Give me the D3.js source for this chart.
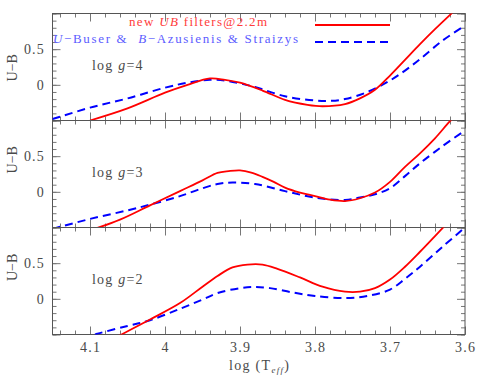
<!DOCTYPE html>
<html>
<head>
<meta charset="utf-8">
<script src="https://cdn.jsdelivr.net/npm/d3@7"></script>
<style>
  body { margin: 0; background: #fff; }
  svg text { font-family: "Liberation Serif", "DejaVu Serif", serif; fill: #4a4a4a; }
</style>
</head>
<body>
<div id="chart"></div>
<script>

// log Teff grid + U-B values, one pair per panel
var gravities = ["4", "3", "2"];

var teffRed4 = [4.10, 4.05, 4.00, 3.97, 3.94, 3.92, 3.90, 3.87, 3.84, 3.81, 3.79, 3.76, 3.74, 3.72, 3.70, 3.68, 3.66, 3.64, 3.62, 3.60];
var ubRed4   = [-0.50, -0.33, -0.11, 0.00, 0.09, 0.07, 0.03, -0.08, -0.21, -0.28, -0.30, -0.27, -0.19, -0.07, 0.13, 0.35, 0.57, 0.78, 0.98, 1.18];
var teffBlue4 = [4.15, 4.10, 4.05, 4.00, 3.97, 3.94, 3.92, 3.90, 3.88, 3.84, 3.80, 3.78, 3.76, 3.73, 3.70, 3.68, 3.66, 3.63, 3.60];
var ubBlue4   = [-0.48, -0.32, -0.19, -0.04, 0.03, 0.07, 0.06, 0.02, -0.03, -0.16, -0.22, -0.225, -0.20, -0.10, 0.06, 0.20, 0.36, 0.62, 0.83];

var teffRed3 = [4.10, 4.06, 4.02, 3.98, 3.95, 3.93, 3.915, 3.90, 3.885, 3.87, 3.855, 3.84, 3.82, 3.80, 3.78, 3.76, 3.74, 3.72, 3.70, 3.68, 3.66, 3.64, 3.62, 3.60];
var ubRed3   = [-0.54, -0.39, -0.19, 0.01, 0.16, 0.265, 0.29, 0.30, 0.27, 0.21, 0.14, 0.06, -0.01, -0.06, -0.11, -0.13, -0.09, -0.01, 0.14, 0.35, 0.54, 0.75, 0.99, 1.20];
var teffBlue3 = [4.15, 4.10, 4.05, 4.02, 3.98, 3.95, 3.93, 3.91, 3.88, 3.84, 3.80, 3.76, 3.74, 3.72, 3.70, 3.68, 3.66, 3.63, 3.60];
var ubBlue3   = [-0.52, -0.38, -0.26, -0.18, -0.06, 0.05, 0.11, 0.13, 0.11, 0.01, -0.08, -0.115, -0.08, -0.035, 0.05, 0.22, 0.40, 0.64, 0.86];

var teffRed2 = [4.08, 4.06, 4.02, 3.98, 3.95, 3.93, 3.91, 3.89, 3.87, 3.85, 3.82, 3.79, 3.76, 3.74, 3.72, 3.70, 3.68, 3.66, 3.64, 3.62];
var ubRed2   = [-0.62, -0.51, -0.29, -0.06, 0.17, 0.32, 0.44, 0.48, 0.48, 0.42, 0.30, 0.17, 0.10, 0.10, 0.15, 0.27, 0.45, 0.66, 0.88, 1.10];
var teffBlue2 = [4.11, 4.09, 4.05, 4.02, 3.98, 3.95, 3.93, 3.90, 3.88, 3.86, 3.83, 3.80, 3.76, 3.73, 3.70, 3.68, 3.66, 3.63, 3.60];
var ubBlue2   = [-0.56, -0.49, -0.38, -0.30, -0.14, -0.01, 0.08, 0.15, 0.165, 0.15, 0.09, 0.04, 0.01, 0.04, 0.13, 0.28, 0.45, 0.73, 1.00];

var xTickLabels = [4.1, 4.0, 3.9, 3.8, 3.7, 3.6];
var yTickLabels = [0, 0.5];

var panels = [
    {g: gravities[0], red: d3.zip(teffRed4, ubRed4), blue: d3.zip(teffBlue4, ubBlue4), lab: 0.24},
    {g: gravities[1], red: d3.zip(teffRed3, ubRed3), blue: d3.zip(teffBlue3, ubBlue3), lab: 0.45},
    {g: gravities[2], red: d3.zip(teffRed2, ubRed2), blue: d3.zip(teffBlue2, ubBlue2), lab: 0.44}
];

var width = 491, height = 387;
var margin = {top: 13.5, left: 52.5, right: 26},
    panelH = 107;

var svg = d3.select("#chart").append("svg")
    .attr("width", width)
    .attr("height", height);

var x = d3.scaleLinear()
    .domain([4.15, 3.6])
    .range([margin.left, width - margin.right]);

var y = d3.scaleLinear()
    .domain([-0.5, 1.0])
    .range([panelH, 0]);

var xMinor = d3.range(0, 28).map(function (i) { return +(4.14 - i * 0.02).toFixed(2); });
var yMinor = d3.range(-5, 11).map(function (i) { return i / 10; });

var line = d3.line()
    .x(function (d) { return x(d[0]); })
    .y(function (d) { return y(d[1]); })
    .curve(d3.curveCatmullRom.alpha(0.5));

svg.append("defs").append("clipPath")
    .attr("id", "clip")
    .append("rect")
    .attr("x", x.range()[0])
    .attr("y", 0)
    .attr("width", x.range()[1] - x.range()[0])
    .attr("height", panelH);

panels.forEach(function (p, i) {
    var g = svg.append("g")
        .attr("transform", "translate(0," + (margin.top + i * panelH) + ")");

    // ticks, all four sides, pointing inward
    function ticks(axis, vals, size, tr) {
        g.append("g")
            .attr("transform", tr)
            .call(axis.tickValues(vals).tickSize(size).tickFormat(""))
            .call(function (s) {
                s.select(".domain").remove();
                s.selectAll("line").attr("stroke", "#777");
            });
    }
    var xMajor = [4.1, 4.0, 3.9, 3.8, 3.7, 3.6];
    ticks(d3.axisBottom(x), xMinor, -4, "translate(0," + panelH + ")");
    ticks(d3.axisBottom(x), xMajor, -8, "translate(0," + panelH + ")");
    ticks(d3.axisTop(x), xMinor, -4, "translate(0,0)");
    ticks(d3.axisTop(x), xMajor, -8, "translate(0,0)");
    ticks(d3.axisLeft(y), yMinor, -4, "translate(" + x.range()[0] + ",0)");
    ticks(d3.axisLeft(y), [-0.5, 0, 0.5, 1.0], -8, "translate(" + x.range()[0] + ",0)");
    ticks(d3.axisRight(y), yMinor, -4, "translate(" + x.range()[1] + ",0)");
    ticks(d3.axisRight(y), [-0.5, 0, 0.5, 1.0], -8, "translate(" + x.range()[1] + ",0)");

    g.append("rect")
        .attr("x", x.range()[0])
        .attr("y", 0)
        .attr("width", x.range()[1] - x.range()[0])
        .attr("height", panelH)
        .attr("fill", "none")
        .attr("stroke", "#555")
        .attr("stroke-width", 1);

    var curves = g.append("g").attr("clip-path", "url(#clip)");
    curves.append("path")
        .datum(p.blue)
        .attr("d", line)
        .attr("fill", "none")
        .attr("stroke", "#0000ff")
        .attr("stroke-width", 2)
        .attr("stroke-dasharray", "8,5");
    curves.append("path")
        .datum(p.red)
        .attr("d", line)
        .attr("fill", "none")
        .attr("stroke", "#ff0000")
        .attr("stroke-width", 1.8);

    g.selectAll(".ylab")
        .data(yTickLabels)
        .enter().append("text")
        .attr("x", 45)
        .attr("y", function (d) { return y(d) + 5; })
        .attr("text-anchor", "end")
        .attr("font-size", "14px")
        .attr("letter-spacing", "1.2px")
        .text(function (d) { return d === 0 ? "0" : d; });

    g.append("text")
        .attr("transform", "translate(17," + y(p.lab) + ") rotate(-90)")
        .attr("text-anchor", "middle")
        .attr("font-size", "14px")
        .text("U\u2212B");

    var t = g.append("text")
        .attr("x", 92)
        .attr("y", y(0.28) + 5)
        .attr("font-size", "14px")
        .attr("letter-spacing", "1.2px");
    t.append("tspan").text("log ");
    t.append("tspan").attr("font-style", "italic").text("g");
    t.append("tspan").text("=" + p.g);
});

// x tick labels under the last panel
svg.selectAll(".xlab")
    .data(xTickLabels)
    .enter().append("text")
    .attr("x", function (d) { return x(d) + 0.6; })
    .attr("y", margin.top + 3 * panelH + 17)
    .attr("text-anchor", "middle")
    .attr("font-size", "14px")
    .attr("letter-spacing", "1.2px")
    .text(function (d) { return d === 4 ? "4" : d; });

var xl = svg.append("text")
    .attr("x", 229)
    .attr("y", 370)
    .attr("font-size", "14px")
    .attr("letter-spacing", "1.3px");
xl.append("tspan").text("log (T");
xl.append("tspan").attr("font-size", "9px").attr("dy", 3).attr("font-style", "italic").text("eff");
xl.append("tspan").attr("dy", -3).text(")");

// legend
var l1 = svg.append("text")
    .attr("x", 129)
    .attr("y", 26)
    .attr("font-size", "13px")
    .attr("textLength", 138)
    .attr("lengthAdjust", "spacing")
    .style("fill", "#ff3b3b");
l1.append("tspan").text("new ");
l1.append("tspan").attr("font-style", "italic").text("UB");
l1.append("tspan").text(" filters@2.2m");

var l2 = svg.append("text")
    .attr("x", 53)
    .attr("y", 43)
    .attr("font-size", "13px")
    .attr("textLength", 245)
    .attr("lengthAdjust", "spacing")
    .style("fill", "#5c5cff");
l2.append("tspan").attr("font-style", "italic").text("U");
l2.append("tspan").text("\u2212Buser &\u00a0 ");
l2.append("tspan").attr("font-style", "italic").text("B");
l2.append("tspan").text("\u2212Azusienis & Straizys");

svg.append("line")
    .attr("x1", 315).attr("x2", 390).attr("y1", 25).attr("y2", 25)
    .attr("stroke", "#ff0000").attr("stroke-width", 1.8);
svg.append("line")
    .attr("x1", 315).attr("x2", 390).attr("y1", 42).attr("y2", 42)
    .attr("stroke", "#0000ff").attr("stroke-width", 2)
    .attr("stroke-dasharray", "8,5");

</script>
</body>
</html>
